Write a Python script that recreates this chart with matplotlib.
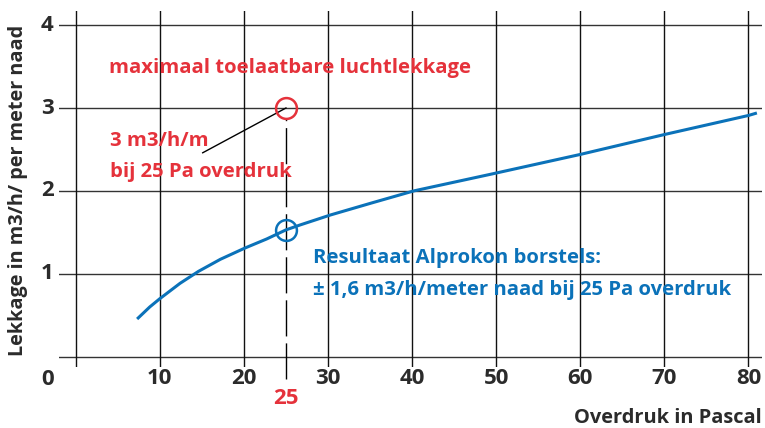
import matplotlib
matplotlib.use('Agg')
import matplotlib.pyplot as plt

# curve (Pa -> m3/h per meter)
pressure = [7.3, 8.8, 10, 12.4, 14.6, 17.2, 20.1, 22.7, 25, 26.7, 30.3, 35.2, 40.2, 49.3, 60, 70, 80, 81]
leakage = [0.455, 0.60, 0.70, 0.885, 1.03, 1.175, 1.31, 1.42, 1.53, 1.59, 1.71, 1.855, 2.0, 2.20, 2.44, 2.68, 2.91, 2.94]

x_ticks = [10, 20, 30, 40, 50, 60, 70, 80]
y_ticks = [1, 2, 3, 4]
ref_pressure = 25
max_allowed = 3.0
result_value = 1.53

RED = '#e5323b'
BLUE = '#0b72b9'
DARK = '#2b2b2b'

plt.rcParams['font.family'] = ['Open Sans', 'DejaVu Sans']
plt.rcParams['font.weight'] = 'bold'

fig = plt.figure(figsize=(7.65, 4.28), dpi=100)
ax = fig.add_axes([0.077, 0.1425, 0.919, 0.8318])
ax.set_xlim(-2, 81.6)
ax.set_ylim(-0.124, 4.17)
ax.axis('off')

# grid
for y in [0] + y_ticks:
  ax.axhline(y, color='#333333', lw=1.0, zorder=1)
for x in [0] + x_ticks:
  ax.axvline(x, color='#111111', lw=1.0, zorder=1)

# tick labels
TICK_FS = 16
for x in x_ticks:
  ax.text(x, -0.26, str(x), ha='center', va='center', fontsize=TICK_FS, color=DARK, fontweight='bold')
for y in y_ticks:
  ax.text(-2.6, y, str(y), ha='right', va='center', fontsize=TICK_FS, color=DARK, fontweight='bold')
ax.text(-3.4, -0.28, '0', ha='center', va='center', fontsize=TICK_FS, color=DARK, fontweight='bold', clip_on=False)

# dashed reference at 25 Pa
ax.plot([ref_pressure, ref_pressure], [-0.27, max_allowed - 0.13], color='black', lw=1.0,
        dashes=(26, 5), clip_on=False, zorder=2)
ax.text(ref_pressure, -0.5, str(ref_pressure), ha='center', va='center', fontsize=TICK_FS,
        color=RED, fontweight='bold', clip_on=False)

# curve
ax.plot(pressure, leakage, color=BLUE, lw=2.2, zorder=3, solid_capstyle='butt', solid_joinstyle='round')

# markers
ax.plot([ref_pressure], [max_allowed], 'o', ms=15, mfc='none', mec=RED, mew=1.8, zorder=4)
ax.plot([ref_pressure], [result_value], 'o', ms=15, mfc='none', mec=BLUE, mew=1.8, zorder=4)

# leader line
ax.plot([15.1, ref_pressure], [2.46, max_allowed], color='black', lw=1.0, zorder=2)

# annotations
ANN_FS = 14.6
ax.text(3.9, 3.48, 'maximaal toelaatbare luchtlekkage', color=RED, fontsize=ANN_FS,
        fontweight='bold', ha='left', va='center')
ax.text(4.1, 2.60, '3 m3/h/m', color=RED, fontsize=ANN_FS, fontweight='bold', ha='left', va='center')
ax.text(4.1, 2.23, 'bij 25 Pa overdruk', color=RED, fontsize=ANN_FS, fontweight='bold', ha='left', va='center')
ax.text(28.2, 1.19, 'Resultaat Alprokon borstels:', color=BLUE, fontsize=ANN_FS, fontweight='bold',
        ha='left', va='center')
ax.text(28.2, 0.80, '± 1,6 m3/h/meter naad bij 25 Pa overdruk', color=BLUE, fontsize=ANN_FS,
        fontweight='bold', ha='left', va='center')

# axis titles
fig.text(762 / 765, 1 - 418 / 428, 'Overdruk in Pascal', ha='right', va='center', fontsize=14.4,
         color=DARK, fontweight='bold')
fig.text(18 / 765, 1 - 190 / 428, 'Lekkage in m3/h/ per meter naad', ha='center', va='center',
         rotation=90, fontsize=14.3, color=DARK, fontweight='bold')

fig.savefig('out.png', dpi=100)
